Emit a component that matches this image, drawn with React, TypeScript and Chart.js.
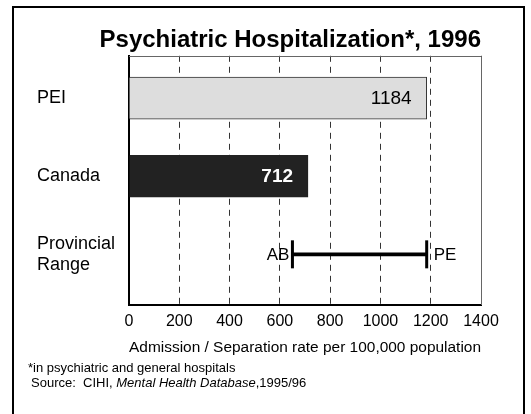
import React, { useEffect, useRef } from 'react';
import { Chart, registerables } from 'chart.js';

Chart.register(...registerables);

const FONT = "'Liberation Sans', Arial, Helvetica, sans-serif";

// ---- data ----
const chartTitle = 'Psychiatric Hospitalization*, 1996';
const categories: (string | string[])[] = ['PEI', 'Canada', ['Provincial', 'Range']];
const rates: (number | null)[] = [1184, 712, null];
const rangeLabels = ['AB', 'PE'];
const rangeValues = [650, 1184];
const rangeRow = 2;
const xMin = 0;
const xMax = 1400;
const xStep = 200;
const xAxisTitle = 'Admission / Separation rate per 100,000 population';
const footnote = '*in psychiatric and general hospitals';
const sourcePrefix = 'Source:  CIHI, ';
const sourceItalic = 'Mental Health Database';
const sourceSuffix = ',1995/96';

const barData = rates
  .map((v, i) => (v == null ? null : { x: v, y: i }))
  .filter((d) => d !== null);
const rangeData = [{ x: [rangeValues[0], rangeValues[1]], y: rangeRow }];

const annotations = {
  id: 'annotations',
  beforeDatasetsDraw(chart: any) {
    const { ctx, chartArea: a } = chart;
    ctx.save();
    ctx.strokeStyle = '#666';
    ctx.lineWidth = 1;
    ctx.beginPath();
    ctx.moveTo(a.left, Math.round(a.top) + 0.5);
    ctx.lineTo(Math.round(a.right) + 0.5, Math.round(a.top) + 0.5);
    ctx.lineTo(Math.round(a.right) + 0.5, a.bottom);
    ctx.stroke();
    ctx.restore();
  },
  afterDatasetsDraw(chart: any) {
    const { ctx } = chart;
    const xs = chart.scales.x;
    ctx.save();
    ctx.textBaseline = 'middle';
    const barMeta = chart.getDatasetMeta(0);
    barMeta.data.forEach((el: any, i: number) => {
      const d: any = barData[i];
      if (!d) return;
      const dark = d.y === 1;
      ctx.font = `${dark ? 'bold ' : ''}19px ${FONT}`;
      ctx.fillStyle = dark ? '#ffffff' : '#000000';
      ctx.textAlign = 'right';
      ctx.fillText(String(d.x), el.x - 15, el.y + 1);
    });
    const rMeta = chart.getDatasetMeta(1);
    const rEl = rMeta.data[0];
    if (rEl) {
      const y = rEl.y;
      const x0 = xs.getPixelForValue(rangeValues[0]);
      const x1 = xs.getPixelForValue(rangeValues[1]);
      ctx.fillStyle = '#000';
      ctx.fillRect(x0 - 1.5, y - 14, 3, 28);
      ctx.fillRect(x1 - 1.5, y - 14, 3, 28);
      ctx.font = `17px ${FONT}`;
      ctx.textAlign = 'right';
      ctx.fillText(rangeLabels[0], x0 - 3, y + 1);
      ctx.textAlign = 'left';
      ctx.fillText(rangeLabels[1], x1 + 7, y + 1);
    }
    ctx.restore();
  },
  afterDraw(chart: any) {
    const { ctx } = chart;
    ctx.save();
    ctx.fillStyle = '#000';
    ctx.textBaseline = 'middle';
    ctx.textAlign = 'left';
    ctx.font = `13px ${FONT}`;
    ctx.fillText(footnote, 28, 368);
    let x = 31;
    const y = 383;
    ctx.fillText(sourcePrefix, x, y);
    x += ctx.measureText(sourcePrefix).width;
    ctx.font = `italic 13px ${FONT}`;
    ctx.fillText(sourceItalic, x, y);
    x += ctx.measureText(sourceItalic).width;
    ctx.font = `13px ${FONT}`;
    ctx.fillText(sourceSuffix, x, y);
    ctx.restore();
  },
};

export default function App() {
  const ref = useRef<HTMLCanvasElement | null>(null);

  useEffect(() => {
    if (!ref.current) return;
    const chart = new Chart(ref.current, {
      type: 'bar',
      data: {
        datasets: [
          {
            data: barData as any,
            backgroundColor: ['#dddddd', '#222222'],
            borderColor: ['#333333', '#222222'],
            borderWidth: 1,
            barThickness: 42,
            grouped: false,
          } as any,
          {
            data: rangeData as any,
            backgroundColor: '#000000',
            borderWidth: 0,
            barThickness: 3,
            grouped: false,
          } as any,
        ],
      },
      options: {
        indexAxis: 'y',
        animation: false,
        responsive: false,
        devicePixelRatio: 1,
        layout: { padding: { left: 37, right: 50, top: 26, bottom: 57 } },
        plugins: {
          legend: { display: false },
          tooltip: { enabled: false },
          title: {
            display: true,
            text: chartTitle,
            align: 'end',
            color: '#000',
            font: { family: FONT, size: 24, weight: 'bold' },
            padding: { top: 0, bottom: 1 },
          },
        },
        scales: {
          x: {
            type: 'linear',
            min: xMin,
            max: xMax,
            ticks: {
              stepSize: xStep,
              color: '#000',
              padding: 7,
              font: { family: FONT, size: 16 },
              callback: (v: any) => String(v),
            },
            grid: {
              display: true,
              color: '#333',
              lineWidth: 1,
              drawTicks: false,
            },
            border: { display: true, color: '#000', width: 2, dash: [6, 5] },
            title: {
              display: true,
              text: xAxisTitle,
              color: '#000',
              font: { family: FONT, size: 15.5 },
              padding: { top: 0, bottom: 0 },
            },
            afterFit: (s: any) => {
              s.height = 52;
            },
          } as any,
          y: {
            type: 'linear',
            reverse: true,
            offset: false,
            min: -0.543,
            max: 2.649,
            afterBuildTicks: (s: any) => {
              s.ticks = categories.map((_, i) => ({ value: i }));
            },
            grid: { display: false, drawTicks: false },
            border: { display: true, color: '#000', width: 2 },
            ticks: {
              color: '#000',
              crossAlign: 'far',
              padding: 0,
              autoSkip: false,
              font: { family: FONT, size: 18 },
              callback: (v: any) => categories[v] as any,
            },
            afterFit: (s: any) => {
              s.width = 92;
            },
          } as any,
        },
      } as any,
      plugins: [annotations],
    });
    return () => chart.destroy();
  }, []);

  return (
    <>
      <canvas
        ref={ref}
        width={531}
        height={414}
        style={{ position: 'absolute', left: 0, top: 0, width: 531, height: 414, display: 'block' }}
      />
      <div
        style={{
          position: 'absolute',
          left: 12,
          top: 6,
          width: 509,
          height: 420,
          border: '2px solid #000',
          pointerEvents: 'none',
        }}
      />
    </>
  );
}
